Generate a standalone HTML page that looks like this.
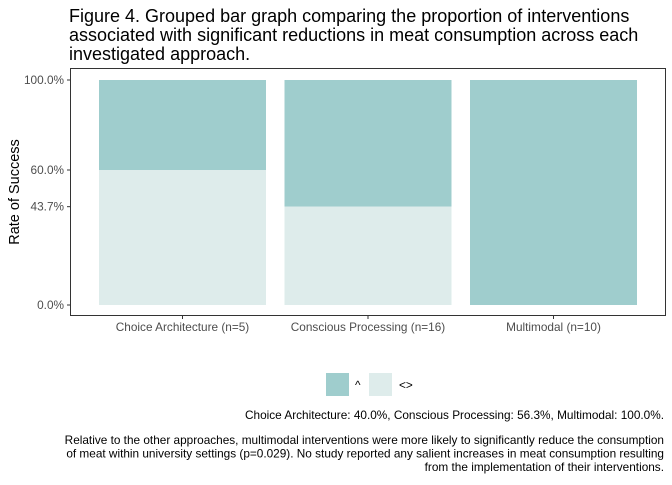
<!DOCTYPE html>
<html><head><meta charset="utf-8"><style>
body{margin:0;background:#fff;font-family:"Liberation Sans",Arial,sans-serif}
</style></head><body>
<svg width="672" height="480" xmlns="http://www.w3.org/2000/svg" font-family="Liberation Sans, Arial, sans-serif">
<text x="69" y="22" font-size="18" fill="#000">Figure 4. Grouped bar graph comparing the proportion of interventions</text>
<text x="69" y="41" font-size="18" fill="#000">associated with significant reductions in meat consumption across each</text>
<text x="69" y="60" font-size="18" fill="#000">investigated approach.</text>
<rect x="70.5" y="68.5" width="595" height="247" fill="none" stroke="#333" stroke-width="1"/>
<g id="bars"></g>
<g id="yaxis"></g>
<g id="xaxis"></g>
<text transform="translate(19,192) rotate(-90)" text-anchor="middle" font-size="14.5">Rate of Success</text>
<rect x="326" y="373" width="23" height="23" fill="#9fcdcd"/>
<text x="355" y="389" font-size="11.8">^</text>
<rect x="369" y="373" width="23" height="23" fill="#deeceb"/>
<text x="399" y="389" font-size="11.8">&lt;&gt;</text>
<text x="664" y="419" font-size="11.8" text-anchor="end">Choice Architecture: 40.0%, Conscious Processing: 56.3%, Multimodal: 100.0%.</text>
<text x="664" y="444" font-size="11.8" text-anchor="end">Relative to the other approaches, multimodal interventions were more likely to significantly reduce the consumption</text>
<text x="664" y="457.5" font-size="11.8" text-anchor="end">of meat within university settings (p=0.029). No study reported any salient increases in meat consumption resulting</text>
<text x="664" y="471" font-size="11.8" text-anchor="end">from the implementation of their interventions.</text>
</svg>
<script>
const categories=["Choice Architecture (n=5)","Conscious Processing (n=16)","Multimodal (n=10)"];
const lowerValues=[60.0,43.7,0.0];
const totalValues=[100,100,100];
const yTicks=[0,43.7,60,100];
const yTickLabels=["0.0%","43.7%","60.0%","100.0%"];
const NS="http://www.w3.org/2000/svg";
function y(v){return 305-v*2.25;}
function xc(i){return 182.5+i*185.5;}
const bw=167;
const bars=document.getElementById('bars'),ya=document.getElementById('yaxis'),xa=document.getElementById('xaxis');
function mk(tag,attrs,parent){const e=document.createElementNS(NS,tag);for(const k in attrs)e.setAttribute(k,attrs[k]);parent.appendChild(e);return e;}
categories.forEach((c,i)=>{
  const top=mk('rect',{x:xc(i)-bw/2,y:y(totalValues[i]),width:bw,height:y(lowerValues[i])-y(totalValues[i]),fill:'#9fcdcd'},bars);
  
  
  const low=mk('rect',{x:xc(i)-bw/2,y:y(lowerValues[i]),width:bw,height:y(0)-y(lowerValues[i]),fill:'#deeceb'},bars);
  
  
  const t=mk('line',{x1:xc(i),x2:xc(i),y1:315.5,y2:319,stroke:'#333'},xa);
  
  
  const l=mk('text',{x:xc(i),y:331,'font-size':11.8,fill:'#4d4d4d','text-anchor':'middle'},xa);
  l.textContent=c;
  
  
});
yTicks.forEach((v,i)=>{
  const t=mk('line',{x1:67,x2:70.5,y1:y(v),y2:y(v),stroke:'#333'},ya);
  
  
  const l=mk('text',{x:64,y:y(v)+4,'font-size':11.8,fill:'#4d4d4d','text-anchor':'end'},ya);
  l.textContent=yTickLabels[i];
  
  
});
</script>
</body></html>
